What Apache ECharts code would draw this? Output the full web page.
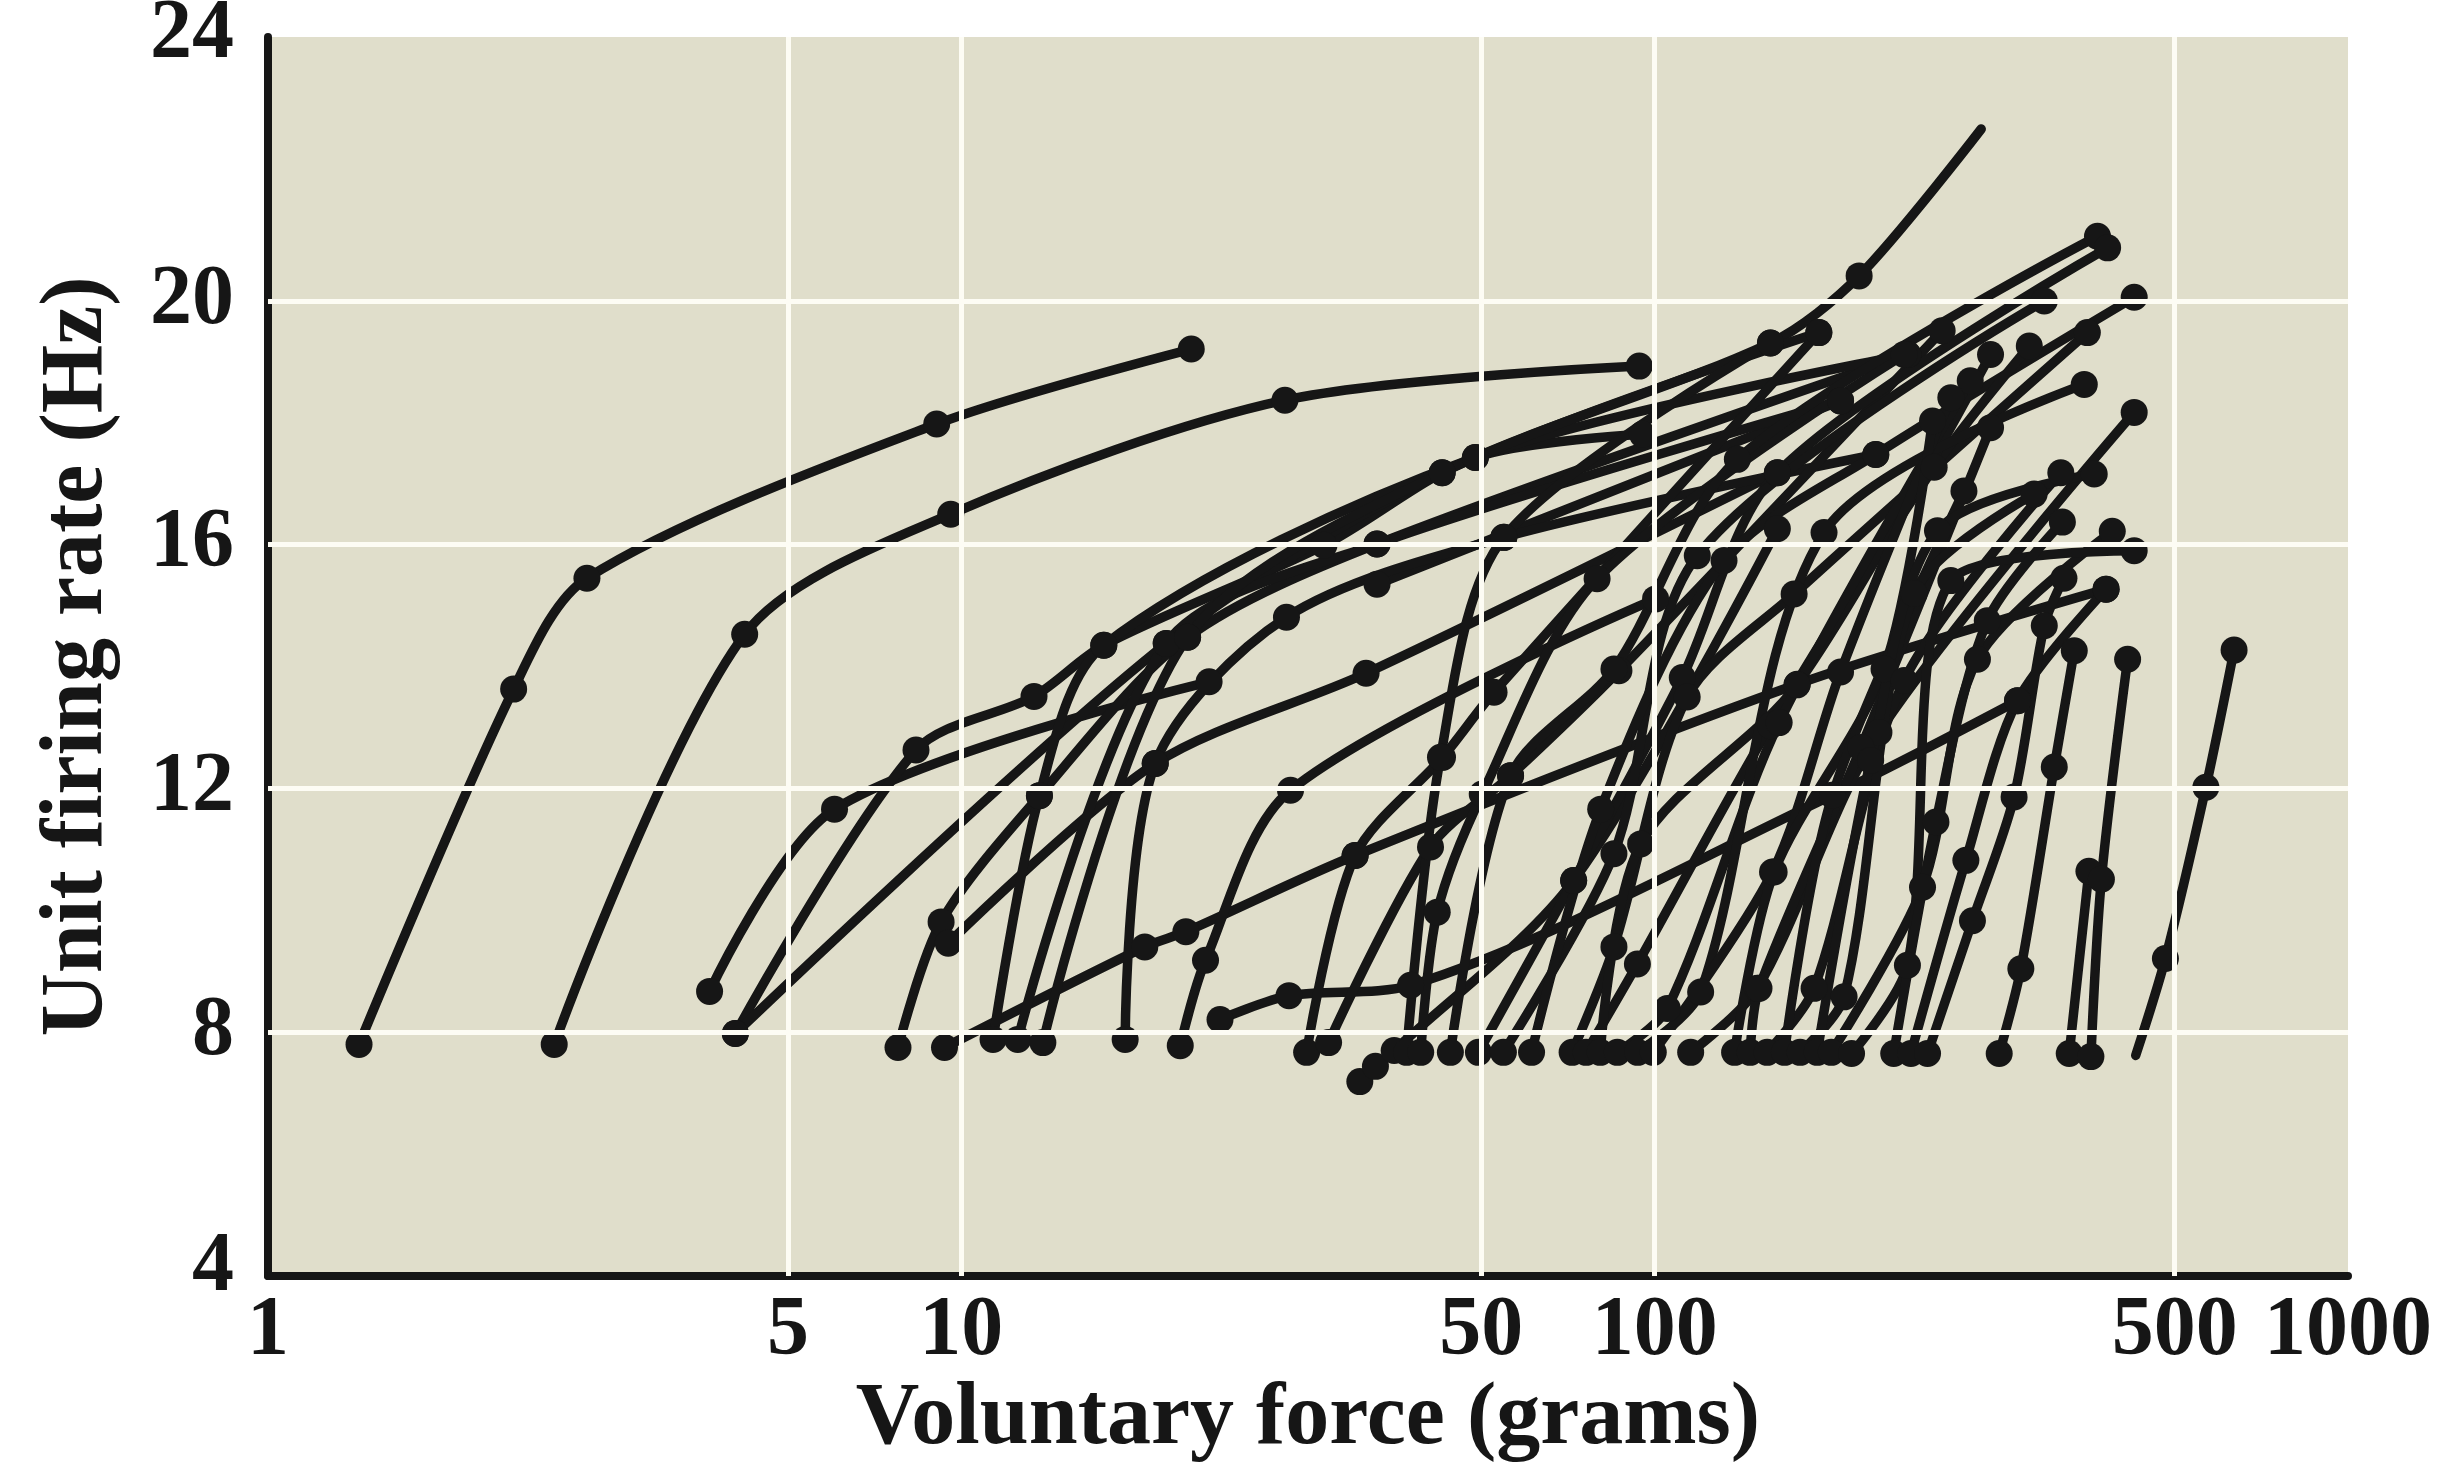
<!DOCTYPE html>
<html><head><meta charset="utf-8">
<script src="https://cdn.jsdelivr.net/npm/echarts@6/dist/echarts.min.js"></script>
<style>html,body{margin:0;padding:0;background:#fff;}#c{width:2447px;height:1466px;}</style>
</head><body><div id="c"></div>
<script>
// Tick labels as printed on the figure, and where the figure draws them (in decades of force)
const xTickLabels = ['1', '5', '10', '50', '100', '500', '1000'];
const xTickDecades = [0, 0.75, 1, 1.75, 2, 2.75, 3];
const xGridDecades = [0.75, 1, 1.75, 2, 2.75];
const yGridValues = [8, 12, 16, 20];
const yTickValues = [4, 8, 12, 16, 20, 24];

// One entry per motor unit: voluntary force (grams) and firing rate (Hz) at each dot
const unitForce = [
  [1.353, 2.261, 2.884, 9.214, 21.46],
  [2.587, 4.870, 9.654, 29.29, 95.02],
  [4.334, 6.563, 22.77],
  [4.721, 8.602, 12.73, 16.05, 33.34, 55.13, 96.0],
  [4.721, 19.75, 49.38, 146.9, 197.2, 295.8],
  [8.103, 9.350, 12.96, 21.20, 39.77, 231.8],
  [9.575, 19.04, 38.35, 150.3],
  [39.77, 185.4],
  [9.456, 18.39, 21.08, 36.98, 160.6, 447.8],
  [23.61, 29.69, 44.46, 180.5, 333.7],
  [37.56, 39.56, 42.10, 76.41, 150.3],
  [11.11, 12.96, 16.05, 55.13, 231.8],
  [12.06, 19.75, 39.77, 185.4],
  [13.11, 21.20, 49.38, 172.5],
  [17.23, 19.04, 29.44, 60.60, 208.4],
  [20.69, 22.50, 29.84, 100.3],
  [31.48, 36.98, 49.43, 58.66, 172.5],
  [33.86, 47.50, 61.97, 88.81, 259.8],
  [43.88, 49.10, 60.60, 146.9],
  [45.98, 48.57, 56.40, 82.60, 229.0],
  [50.74, 61.97, 87.35, 131.6, 435.2],
  [55.70, 76.41, 109.6, 150.3, 450.1],
  [60.51, 87.35, 115.2, 364.7],
  [66.44, 83.59, 125.9, 208.4, 491.6],
  [76.02, 87.35, 111.4, 158.9, 420.8],
  [79.64, 94.43, 146.9, 253.0, 347.0],
  [83.46, 95.45, 160.4, 305.1],
  [88.35, 104.3, 151.2, 285.2],
  [94.52, 116.5, 175.5, 416.5],
  [99.54, 147.9, 185.4, 267.4],
  [112.7, 140.6, 210.6, 491.6],
  [130.4, 148.7, 214.2, 251.6],
  [137.3, 141.4, 198.4, 305.1],
  [145.3, 169.8, 229.0, 385.3],
  [153.9, 180.5, 279.3],
  [162.1, 187.6, 236.7, 352.6],
  [171.6, 204.9, 255.8, 430.5],
  [179.8, 243.4, 292.1, 457.1],
  [192.3, 231.5, 267.4, 491.6],
  [221.2, 254.5, 301.8, 387.3],
  [234.2, 281.1, 333.7, 447.8],
  [247.5, 287.3, 329.9, 364.7, 389.3],
  [314.0, 337.4, 377.0, 402.9],
  [396.2, 423.0],
  [425.8, 440.9, 481.0],
  [494.1, 545.3, 623.8, 685.0]
];
const unitRate = [
  [7.80, 13.63, 15.45, 17.98, 19.21],
  [7.80, 14.53, 16.50, 18.37, 18.93],
  [8.67, 11.66, 13.75],
  [7.98, 12.63, 13.51, 14.35, 15.99, 17.43, 17.81],
  [7.98, 14.38, 17.18, 19.31, 20.41, 22.82],
  [7.75, 9.81, 11.88, 14.48, 16.01, 19.12],
  [9.46, 12.41, 13.89, 17.18],
  [15.35, 18.36],
  [7.75, 9.40, 9.65, 10.90, 13.71, 15.27],
  [8.21, 8.60, 8.77, 11.89, 13.44],
  [7.19, 7.44, 7.70, 10.49, 16.26],
  [7.88, 11.88, 14.35, 17.43, 19.12],
  [7.88, 14.38, 16.01, 18.36],
  [7.83, 14.48, 17.18, 19.48],
  [7.88, 12.41, 14.81, 16.12, 17.48],
  [7.78, 9.18, 11.97, 15.11],
  [7.67, 10.90, 12.51, 13.58, 19.48],
  [7.83, 11.04, 12.21, 13.93, 19.51],
  [7.67, 12.51, 16.12, 19.31],
  [7.67, 9.97, 11.91, 15.44, 19.12],
  [7.67, 12.21, 13.96, 17.40, 21.06],
  [7.67, 10.49, 13.82, 17.18, 20.87],
  [7.67, 10.93, 15.82, 20.00],
  [7.67, 11.66, 15.74, 17.48, 20.06],
  [7.67, 9.40, 13.50, 15.19, 19.48],
  [7.67, 9.12, 13.03, 17.27, 19.26],
  [7.67, 11.09, 13.70, 19.12],
  [7.67, 8.39, 13.08, 18.69],
  [7.67, 8.66, 16.20, 18.63],
  [7.67, 10.63, 13.91, 18.41],
  [7.67, 8.72, 12.92, 18.17],
  [7.67, 10.63, 13.96, 18.03],
  [7.67, 8.72, 12.67, 17.92],
  [7.67, 8.72, 13.77, 17.18],
  [7.67, 11.89, 16.88],
  [7.67, 8.58, 15.20, 16.83],
  [7.67, 12.46, 16.23, 17.16],
  [7.67, 10.38, 14.12, 16.22],
  [7.65, 9.10, 15.41, 15.90],
  [7.65, 11.45, 14.75, 16.37],
  [7.65, 10.82, 13.44, 15.27],
  [7.65, 9.83, 11.86, 14.67, 15.45],
  [7.65, 9.04, 12.35, 14.26],
  [7.65, 10.64],
  [7.60, 10.51, 14.12],
  [7.62, 9.21, 12.02, 14.27]
];
// Curve ends drawn without a dot: [unit index, point index]
const unmarkedPoints = [[4, 5], [45, 0]];

const INK = '#161616';
const FONT = 'Liberation Serif';

function isUnmarked(i, j) {
  return unmarkedPoints.some(p => p[0] === i && p[1] === j);
}

const unitSeries = unitForce.map((forces, i) => ({
  type: 'line',
  xAxisIndex: 0,
  yAxisIndex: 0,
  silent: true,
  smooth: 0.3,
  symbol: 'circle',
  symbolSize: 27,
  showSymbol: true,
  showAllSymbol: true,
  z: 3,
  itemStyle: { color: INK },
  lineStyle: { color: INK, width: 9.5, cap: 'round', join: 'round' },
  data: forces.map((g, j) => {
    const item = { value: [g, unitRate[i][j]] };
    if (isUnmarked(i, j)) item.symbol = 'none';
    return item;
  })
}));

const gridSeries = {
  type: 'line',
  xAxisIndex: 1,
  yAxisIndex: 0,
  data: [],
  z: 1,
  silent: true,
  markLine: {
    silent: true,
    symbol: 'none',
    label: { show: false },
    lineStyle: { color: '#fdfcf4', width: 5, type: 'solid' },
    data: xGridDecades.map(v => ({ xAxis: v })).concat(yGridValues.map(v => ({ yAxis: v })))
  }
};

const labelStyle = { fontFamily: FONT, fontWeight: 'bold', fontSize: 84, color: INK };

const option = {
  animation: false,
  backgroundColor: '#ffffff',
  grid: {
    left: 268, right: 99, top: 37, bottom: 190,
    show: true, backgroundColor: '#e0decb', borderWidth: 0,
    containLabel: false, outerBoundsMode: 'none'
  },
  xAxis: [
    {
      type: 'log', logBase: 10, min: 1, max: 1000, position: 'bottom',
      axisLine: { show: true, onZero: false, lineStyle: { color: INK, width: 8 } },
      axisTick: { show: false },
      axisLabel: { show: false },
      splitLine: { show: false },
      name: 'Voluntary force (grams)',
      nameLocation: 'middle',
      nameGap: 100,
      nameTextStyle: { fontFamily: FONT, fontWeight: 'bold', fontSize: 88, color: INK }
    },
    {
      type: 'value', min: 0, max: 3, position: 'bottom',
      axisLine: { show: false },
      axisTick: { show: false },
      splitLine: { show: false },
      axisLabel: Object.assign({}, labelStyle, {
        margin: 14,
        customValues: xTickDecades,
        formatter: function (v) {
          const k = xTickDecades.findIndex(d => Math.abs(d - v) < 1e-6);
          return k >= 0 ? xTickLabels[k] : '';
        }
      })
    }
  ],
  yAxis: {
    type: 'value', min: 4, max: 24.33, interval: 4,
    axisLine: { show: true, onZero: false, lineStyle: { color: INK, width: 8 } },
    axisTick: { show: false },
    splitLine: { show: false },
    axisLabel: Object.assign({}, labelStyle, {
      margin: 34,
      formatter: function (v) {
        if (yTickValues.indexOf(v) < 0) return '';
        if (v === 24) return '{t|24}';
        if (v === 4) return '{b|4}';
        return String(v);
      },
      rich: {
        t: Object.assign({}, labelStyle, { padding: [0, 0, 44, 0] }),
        b: Object.assign({}, labelStyle, { padding: [0, 0, 16, 0] })
      }
    }),
    name: 'Unit firing rate (Hz)',
    nameLocation: 'middle',
    nameRotate: 90,
    nameGap: 146,
    nameTextStyle: { fontFamily: FONT, fontWeight: 'bold', fontSize: 88, color: INK }
  },
  series: [gridSeries].concat(unitSeries)
};

const chart = echarts.init(document.getElementById('c'), null, { renderer: 'canvas' });
chart.setOption(option);
</script>
</body></html>
